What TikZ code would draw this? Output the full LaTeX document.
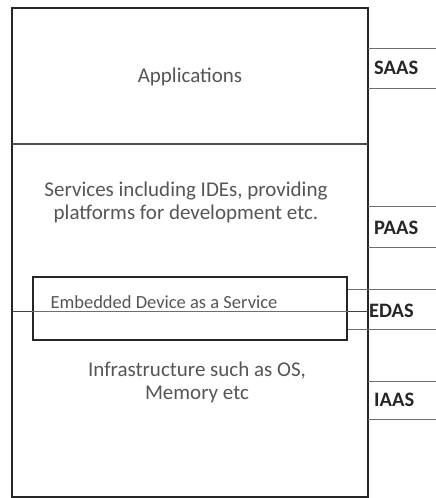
\documentclass[tikz,border=0pt]{standalone}
\usepackage{fontspec}
\setmainfont{Carlito}
\usetikzlibrary{positioning}
\definecolor{txt}{RGB}{85,85,85}
\definecolor{rule}{RGB}{110,110,110}
\tikzset{
    frame/.style={draw=black!85, line width=1.8pt},
    edbox/.style={rectangle, draw=black!85, line width=1.8pt, minimum width=314pt, minimum height=63pt, inner sep=0pt},
    layer/.style={text=txt, align=center, font=\fontsize{21}{23}\selectfont},
    tag/.style={font=\fontsize{20.5}{22}\selectfont\bfseries, text=black!85, inner sep=0pt, anchor=west},
    tagline/.style={draw=rule, line width=0.9pt}
}

\begin{document}
\begin{tikzpicture}[x=1pt, y=-1pt]
    \useasboundingbox (0,0) rectangle (436,498);

    % stack of layers
    \draw[frame] (12,8) rectangle (368,497);
    \draw[frame, line width=1.2pt, draw=black!70] (12,144) -- (368,144);

    \node[layer] (apps) at (190,77) {Applications};
    \node[layer] (paas text) at (186,202) {Services including IDEs, providing\\platforms for development etc.};
    \node[layer] (iaas text) at (197,382) {Infrastructure such as OS,\\Memory etc};

    % embedded device box
    \node[edbox] (edaas) at (190,308.5) {};
    \node[layer, font=\fontsize{18.5}{20}\selectfont, anchor=west] (edaas text) at (47,302) {Embedded Device as a Service};
    \coordinate (lft) at (12,311);
    \coordinate (rgt) at (368,311);
    \draw[tagline, draw=black!75] (lft) -- (lft -| edaas.west);
    \draw[tagline, line width=0.7pt] (lft -| edaas.west) -- (lft -| edaas.east);
    \draw[tagline, draw=black!75] (lft -| edaas.east) -- (rgt);

    % service models
    \node[tag] (saas) at (374,68) {SAAS};
    \node[tag] (paas) at (374,228) {PAAS};
    \node[tag] (edas) at (369,311) {EDAS};
    \node[tag] (iaas) at (374,400) {IAAS};

    \draw[tagline] (368,48) -- (436,48);
    \draw[tagline] (368,88) -- (436,88);
    \draw[tagline] (368,206) -- (436,206);
    \draw[tagline] (368,247) -- (436,247);
    \draw[tagline] (edaas.east |- 0,289) -- (436,289);
    \draw[tagline] (edaas.east |- 0,329) -- (436,329);
    \draw[tagline] (368,381) -- (436,381);
    \draw[tagline] (368,419) -- (436,419);
\end{tikzpicture}
\end{document}
